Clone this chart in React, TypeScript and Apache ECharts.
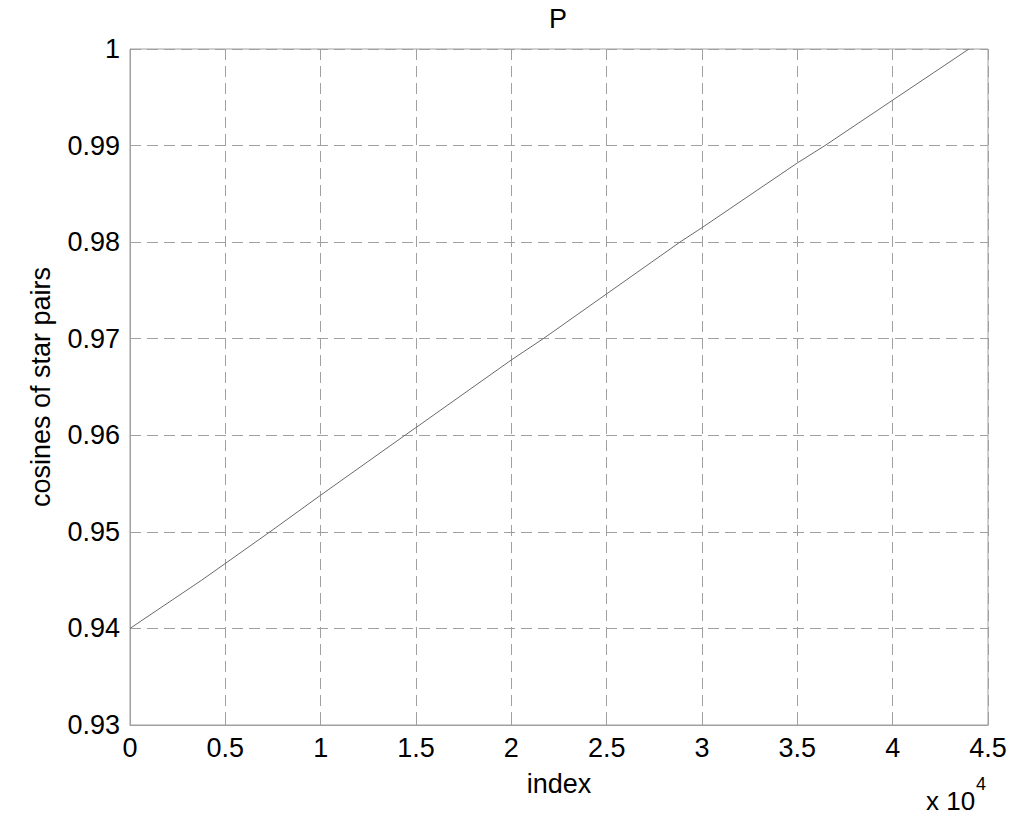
import React, { useEffect, useRef } from "react";
import * as echarts from "echarts";

const indexValues = [0, 3760, 7340, 10000, 14420, 15000, 20000, 21670, 28840, 30000, 35000, 36450, 44000];
const cosineValues = [0.94, 0.945, 0.95, 0.9538, 0.96, 0.9608, 0.9678, 0.97, 0.98, 0.9815, 0.9882, 0.99, 1.0];

const titleText = "P";
const xAxisName = "index";
const yAxisName = "cosines of star pairs";

const FONT = "'Liberation Sans', Arial, sans-serif";

export default function App() {
  const ref = useRef<HTMLDivElement>(null);
  useEffect(() => {
    if (!ref.current) return;
    const chart = echarts.init(ref.current, undefined, { renderer: "svg" });
    const data = indexValues.map((x, i) => [x, cosineValues[i]]);
    chart.setOption({
      animation: false,
      backgroundColor: "#ffffff",
      textStyle: { fontFamily: FONT },
      title: {
        text: titleText,
        left: 553,
        top: 0,
        textAlign: "center",
        textStyle: { fontSize: 27, fontWeight: "normal", color: "#000", fontFamily: FONT },
      },
      grid: {
        left: 130,
        right: 36,
        top: 49,
        bottom: 103,
        show: true,
        borderColor: "#a0a0a0",
        borderWidth: 1,
      },
      xAxis: {
        type: "value",
        min: 0,
        max: 45000,
        interval: 5000,
        name: xAxisName,
        nameLocation: "middle",
        nameGap: 45,
        nameTextStyle: { fontSize: 27, color: "#000", fontFamily: FONT },
        axisLine: { show: true, lineStyle: { color: "#a0a0a0" } },
        axisTick: { show: true, inside: true, length: 6, lineStyle: { color: "#a0a0a0" } },
        axisLabel: {
          fontSize: 27,
          color: "#000",
          margin: 9,
          fontFamily: FONT,
          formatter: (v: number) => String(Number((v / 10000).toFixed(2))),
        },
        splitLine: { show: true, lineStyle: { color: "#a0a0a0", type: [11, 6], width: 1 } },
      },
      yAxis: {
        type: "value",
        min: 0.93,
        max: 1.0,
        interval: 0.01,
        name: yAxisName,
        nameLocation: "middle",
        nameGap: 76,
        nameTextStyle: { fontSize: 27, color: "#000", fontFamily: FONT },
        axisLine: { show: true, lineStyle: { color: "#a0a0a0" } },
        axisTick: { show: true, inside: true, length: 6, lineStyle: { color: "#a0a0a0" } },
        axisLabel: {
          fontSize: 27,
          color: "#000",
          margin: 10,
          fontFamily: FONT,
          formatter: (v: number) => String(Number(v.toFixed(2))),
        },
        splitLine: { show: true, lineStyle: { color: "#a0a0a0", type: [11, 6], width: 1 } },
      },
      graphic: [
        {
          type: "text",
          left: 926,
          top: 788,
          style: { text: "x 10", fontSize: 26, fill: "#000", fontFamily: FONT },
        },
        {
          type: "text",
          left: 976,
          top: 775,
          style: { text: "4", fontSize: 18, fill: "#000", fontFamily: FONT },
        },
      ],
      series: [
        {
          type: "line",
          data,
          showSymbol: false,
          symbol: "none",
          lineStyle: { color: "#6a6a6a", width: 1 },
        },
      ],
    });
    return () => chart.dispose();
  }, []);
  return (
    <div
      ref={ref}
      style={{ position: "absolute", left: 0, top: 0, width: 1024, height: 828 }}
    />
  );
}
